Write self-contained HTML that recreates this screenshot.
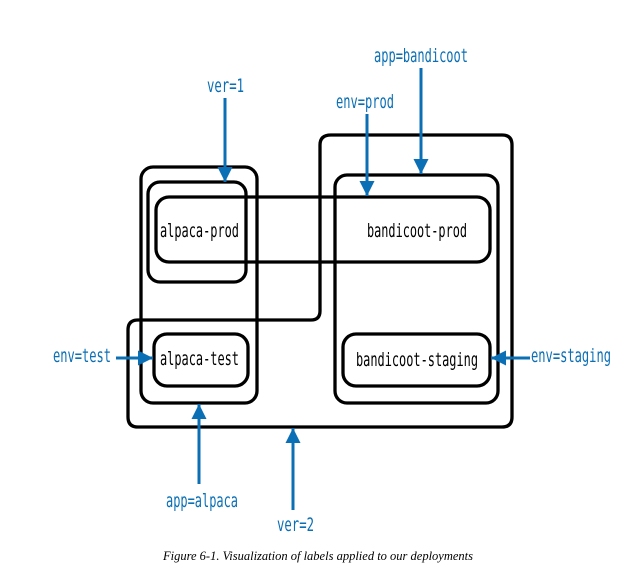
<!DOCTYPE html>
<html><head><meta charset="utf-8"><style>
html,body{margin:0;padding:0;background:#fff;}
svg{display:block;}
.b{font-family:"DejaVu Sans Mono","Liberation Mono",monospace;font-size:19px;fill:#000;}
.l{font-family:"DejaVu Sans Mono","Liberation Mono",monospace;font-size:19px;fill:#0a6fb5;}
</style></head><body>
<svg width="637" height="587" viewBox="0 0 637 587" xmlns="http://www.w3.org/2000/svg">
<defs>
<marker id="a" viewBox="0 0 10 10" refX="10" refY="5" markerWidth="5" markerHeight="5" orient="auto" markerUnits="strokeWidth">
<path d="M0,0 L10,5 L0,10 z" fill="#0a6fb5"/></marker>
</defs>
<g fill="none" stroke="#000" stroke-width="3.3">
<path d="M331,135 H502 Q512,135 512,145 V417 Q512,427 502,427 H138 Q128,427 128,417 V330 Q128,320 138,320 H311 Q320,320 320,311 V145 Q320,135 331,135 Z"/>
<rect x="141" y="167" width="116" height="236" rx="12"/>
<rect x="148" y="182" width="98" height="100" rx="12"/>
<rect x="156" y="197" width="334" height="65" rx="13"/>
<rect x="335" y="175" width="163" height="228" rx="12"/>
<rect x="154" y="334" width="94" height="52" rx="13"/>
<rect x="343" y="334" width="147" height="52" rx="13"/>
</g>
<g class="b">
<text x="160" y="237" textLength="79" lengthAdjust="spacingAndGlyphs">alpaca-prod</text>
<text x="367" y="237" textLength="100" lengthAdjust="spacingAndGlyphs">bandicoot-prod</text>
<text x="160" y="365" textLength="79" lengthAdjust="spacingAndGlyphs">alpaca-test</text>
<text x="356" y="366" textLength="122" lengthAdjust="spacingAndGlyphs">bandicoot-staging</text>
</g>
<g stroke="#0a6fb5" stroke-width="3" marker-end="url(#a)">
<line x1="225" y1="98" x2="225" y2="182"/>
<line x1="367" y1="114" x2="367" y2="196"/>
<line x1="421" y1="68" x2="421" y2="174"/>
<line x1="116" y1="358" x2="153" y2="358"/>
<line x1="530" y1="358" x2="491" y2="358"/>
<line x1="199" y1="484" x2="199" y2="404"/>
<line x1="293" y1="510" x2="293" y2="428"/>
</g>
<g class="l">
<text x="207" y="92" textLength="37" lengthAdjust="spacingAndGlyphs">ver=1</text>
<text x="336" y="108" textLength="58" lengthAdjust="spacingAndGlyphs">env=prod</text>
<text x="374" y="62" textLength="94" lengthAdjust="spacingAndGlyphs">app=bandicoot</text>
<text x="53" y="362" textLength="58" lengthAdjust="spacingAndGlyphs">env=test</text>
<text x="531" y="362" textLength="80" lengthAdjust="spacingAndGlyphs">env=staging</text>
<text x="166" y="507" textLength="72" lengthAdjust="spacingAndGlyphs">app=alpaca</text>
<text x="277" y="531" textLength="37" lengthAdjust="spacingAndGlyphs">ver=2</text>
</g>
<text x="318" y="560" text-anchor="middle" font-family="Liberation Serif, serif" font-style="italic" font-size="12.5">Figure 6-1. Visualization of labels applied to our deployments</text>
</svg>
</body></html>
